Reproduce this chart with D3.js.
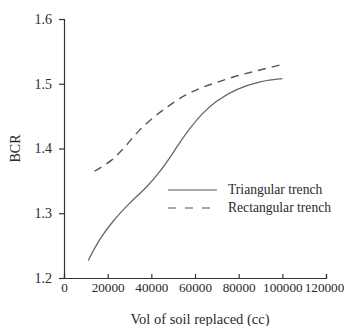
<!DOCTYPE html>
<html>
<head>
<meta charset="utf-8">
<script src="https://cdn.jsdelivr.net/npm/d3@7"></script>
<style>
  body { margin: 0; background: #fff; }
  text { font-family: "Liberation Serif", "Times New Roman", serif; fill: #2a2a2a; }
</style>
</head>
<body>
<div id="chart"></div>
<script>
// data
let triVol = [11100, 16500, 22600, 30200, 37900, 44000, 48500, 52400, 57700, 63800, 69900, 79100, 89800, 100000];
let triBcr = [1.227, 1.260, 1.288, 1.316, 1.341, 1.365, 1.386, 1.406, 1.431, 1.455, 1.473, 1.491, 1.503, 1.508];
let rectVol = [14000, 21800, 27200, 34500, 42500, 48500, 55400, 62300, 69900, 79100, 88300, 101400];
let rectBcr = [1.365, 1.382, 1.400, 1.428, 1.452, 1.467, 1.482, 1.493, 1.502, 1.512, 1.520, 1.531];
let xTicks = [0, 20000, 40000, 60000, 80000, 100000, 120000];
let yTicks = [1.2, 1.3, 1.4, 1.5, 1.6];
let seriesNames = ["Triangular trench", "Rectangular trench"];

let margin = { top: 19, right: 19, bottom: 47, left: 64 },
    width = 345 - margin.left - margin.right,
    height = 326 - margin.top - margin.bottom;

let svg = d3.select("#chart")
    .append("svg")
    .attr("width", 345)
    .attr("height", 326)
    .append("g")
    .attr("transform", "translate(" + margin.left + "," + margin.top + ")");

const x = d3.scaleLinear().domain([0, 120000]).range([0, 262]);
const y = d3.scaleLinear().domain([1.2, 1.6]).range([height - 1, 0]);

// x axis, ticks pointing inward
let xa = svg.append("g")
    .attr("transform", "translate(0," + (height - 1) + ")")
    .call(d3.axisBottom(x).tickValues(xTicks).tickSize(-4).tickPadding(5).tickFormat(d3.format("d")));
xa.selectAll("text").style("font-size", "13.2px");
// keep the last label inside the window
xa.selectAll("text").filter(d => d == 120000).attr("x", -2);

// y axis
let ya = svg.append("g")
    .call(d3.axisLeft(y).tickValues(yTicks).tickSize(5).tickPadding(7).tickFormat(d3.format(".1f")));
ya.selectAll("text").style("font-size", "14px");

svg.selectAll(".domain, .tick line").attr("stroke", "#333").attr("stroke-width", 1.2);

// axis titles
svg.append("text")
    .attr("x", x(60000) + 5)
    .attr("y", height + 45)
    .attr("text-anchor", "middle")
    .style("font-size", "14.5px")
    .text("Vol of soil replaced (cc)");

svg.append("text")
    .attr("transform", "translate(" + (-44) + "," + (y(1.40)) + ") rotate(-90)")
    .attr("text-anchor", "middle")
    .style("font-size", "14px")
    .text("BCR");

let line = d3.line()
    .x(d => x(d[0]))
    .y(d => y(d[1]))
    .curve(d3.curveCatmullRom.alpha(0.5));

svg.append("path")
    .datum(d3.zip(triVol, triBcr))
    .attr("fill", "none")
    .attr("stroke", "#666")
    .attr("stroke-width", 1.3)
    .attr("d", line);

svg.append("path")
    .datum(d3.zip(rectVol, rectBcr))
    .attr("fill", "none")
    .attr("stroke", "#555")
    .attr("stroke-width", 1.4)
    .attr("stroke-dasharray", "8,6")
    .attr("d", line);

// legend
let legend = svg.append("g").attr("transform", "translate(104,171)");
legend.append("line")
    .attr("x1", 0).attr("x2", 49).attr("y1", 0).attr("y2", 0)
    .attr("stroke", "#555").attr("stroke-width", 1.2);
legend.append("line")
    .attr("x1", 0).attr("x2", 42).attr("y1", 18).attr("y2", 18)
    .attr("stroke", "#555").attr("stroke-width", 1.2).attr("stroke-dasharray", "8,9");
legend.selectAll("text.lg")
    .data(seriesNames)
    .enter()
    .append("text")
    .attr("class", "lg")
    .attr("x", 60)
    .attr("y", (d, i) => i * 18 + 4)
    .style("font-size", "13.6px")
    .text(d => d);
</script>
</body>
</html>
